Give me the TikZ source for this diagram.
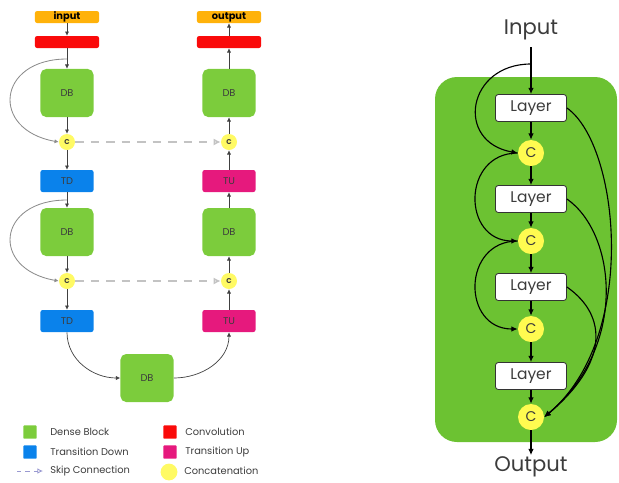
\documentclass[tikz,border=0pt]{standalone}
\usepackage{fontspec}
\setmainfont{Poppins}
\usetikzlibrary{arrows.meta,positioning}
\definecolor{dbgreen}{RGB}{124,204,60}
\definecolor{bggreen}{RGB}{108,194,50}
\definecolor{convred}{RGB}{250,10,10}
\definecolor{inorange}{RGB}{255,178,10}
\definecolor{tdblue}{RGB}{10,130,235}
\definecolor{tumag}{RGB}{230,25,125}
\definecolor{catyellow}{RGB}{255,250,100}
\definecolor{skipgray}{RGB}{195,195,195}
\definecolor{textgray}{RGB}{60,60,60}
\begin{document}
\begin{tikzpicture}[x=0.025cm,y=0.025cm,
  box/.style={rounded corners=1.5pt,inner sep=0pt,font=\fontsize{7}{8}\selectfont,text=textgray},
  inbox/.style={box,fill=inorange,minimum width=1.6cm,minimum height=0.3cm,font=\fontsize{7}{8}\selectfont\bfseries,text=black},
  conv/.style={box,fill=convred,minimum width=1.6cm,minimum height=0.3cm},
  dblock/.style={box,fill=dbgreen,rounded corners=4pt,minimum width=1.325cm,minimum height=1.2cm},
  td/.style={box,fill=tdblue,minimum width=1.325cm,minimum height=0.55cm},
  tu/.style={box,fill=tumag,minimum width=1.325cm,minimum height=0.55cm},
  cat/.style={circle,fill=catyellow,inner sep=0pt,minimum size=0.4cm,font=\fontsize{5}{6}\selectfont\bfseries,text=textgray},
  flow/.style={draw=black!75,line width=0.5pt,-{Latex[length=3pt,width=3pt]}},
  skipcurve/.style={draw=black!45,line width=0.6pt,-{Latex[length=3pt,width=3pt]}},
  skipline/.style={draw=skipgray,line width=1.3pt,dash pattern=on 6pt off 5pt,-{Latex[length=5pt,width=5pt,open]}},
  layer/.style={draw=black!80,fill=white,rounded corners=2pt,line width=0.6pt,minimum width=1.775cm,minimum height=0.675cm,font=\fontsize{11}{12}\selectfont,text=textgray},
  catR/.style={circle,fill=catyellow!80!yellow,inner sep=0pt,minimum size=0.65cm,font=\fontsize{10}{11}\selectfont,text=textgray},
  flowR/.style={draw=black,line width=0.8pt,-{Latex[length=4.5pt,width=4pt]}},
  lsq/.style={rounded corners=0.5pt,minimum size=0.33cm,inner sep=0pt},
  ltext/.style={font=\fontsize{7}{8}\selectfont,text=textgray,inner sep=0pt,anchor=west},
  bigtext/.style={font=\fontsize{15}{16}\selectfont,text=textgray,inner sep=0pt}
]
\useasboundingbox (0,0) rectangle (619,-482);

\node[inbox] (in) at (67,-17) {input};
\node[conv] (convL) at (67,-42) {};
\node[dblock] (dbL1) at (67,-93) {DB};
\node[cat] (cL1) at (67,-142) {C};
\node[td] (tdL1) at (67,-181) {TD};
\node[dblock] (dbL2) at (67,-232) {DB};
\node[cat] (cL2) at (67,-281) {C};
\node[td] (tdL2) at (67,-321) {TD};
\node[dblock] (dbB) at (147,-378) {DB};
\node[tu] (tuR2) at (229,-321) {TU};
\node[cat] (cR2) at (229,-281) {C};
\node[dblock] (dbR2) at (229,-232) {DB};
\node[tu] (tuR1) at (229,-181) {TU};
\node[cat] (cR1) at (229,-142) {C};
\node[dblock] (dbR1) at (229,-93) {DB};
\node[conv] (convR) at (229,-42) {};
\node[inbox] (out) at (229,-17) {output};

\foreach \a/\b in {in/convL,convL/dbL1,dbL1/cL1,cL1/tdL1,tdL1/dbL2,dbL2/cL2,cL2/tdL2,
    tuR2/cR2,cR2/dbR2,dbR2/tuR1,tuR1/cR1,cR1/dbR1,dbR1/convR,convR/out}
  \draw[flow] (\a) -- (\b);
\draw[flow] (tdL2.south) to[out=-90,in=180] (dbB.west);
\draw[flow] (dbB.east) to[out=0,in=-90] (tuR2.south);

\coordinate (sL1) at (67,-59);
\coordinate (sL2) at (67,-200);
\draw[skipcurve] (sL1) to[out=180,in=170,distance=1.75cm] (cL1.west);
\draw[skipcurve] (sL2) to[out=180,in=170,distance=1.75cm] (cL2.west);
\draw[skipline] (cL1) -- (cR1);
\draw[skipline] (cL2) -- (cR2);

% legend
\node[lsq,fill=dbgreen] (lgDB) at (30,-432) {};
\node[lsq,fill=tdblue] (lgTD) at (30,-452) {};
\node[lsq,fill=convred] (lgCV) at (170,-432) {};
\node[lsq,fill=tumag] (lgTU) at (170,-452) {};
\node[circle,fill=catyellow,minimum size=0.42cm,inner sep=0pt] (lgC) at (169,-472) {};
\node[ltext] at (50,-432) {Dense Block};
\node[ltext] at (50,-452) {Transition Down};
\node[ltext] at (50,-471) {Skip Connection};
\node[ltext] at (185,-432) {Convolution};
\node[ltext] at (185,-452) {Transition Up};
\node[ltext] at (184,-471) {Concatenation};
\coordinate (skA) at (17,-471);
\coordinate (skB) at (43,-471);
\draw[draw=black!45!blue!40,line width=0.6pt,dashed,-{Latex[length=4pt,width=4pt,open]}] (skA) -- (skB);

% dense block
\fill[bggreen,rounded corners=0.55cm] (435,-77) rectangle (617,-442);
\node[bigtext] (inp) at (531,-30) {Input};
\node[layer] (l1) at (531,-108) {Layer};
\node[catR] (c1) at (531,-153) {C};
\node[layer] (l2) at (531,-199) {Layer};
\node[catR] (c2) at (531,-241) {C};
\node[layer] (l3) at (531,-287) {Layer};
\node[catR] (c3) at (531,-329) {C};
\node[layer] (l4) at (531,-376) {Layer};
\node[catR] (c4) at (531,-417) {C};
\node[bigtext] (outp) at (531,-467) {Output};

\draw[flowR,shorten <=5pt] (inp) -- (l1);
\foreach \a/\b in {l1/c1,c1/l2,l2/c2,c2/l3,l3/c3,c3/l4,l4/c4}
  \draw[flowR] (\a) -- (\b);
\draw[flowR,shorten >=1pt] (c4) -- (outp);

\coordinate (sp) at (531,-64);
\draw[flowR] (sp) to[out=180,in=170,distance=1.6cm] (c1.west);
\draw[flowR] (c1.west) to[out=180,in=180,distance=1.4cm] (c2.west);
\draw[flowR] (c2.west) to[out=180,in=180,distance=1.4cm] (c3.west);

\draw[flowR] (l1.east) to[out=-35,in=40,out distance=1.6cm,in distance=3.1cm] (c4.east);
\draw[flowR] (l2.east) to[out=-35,in=40,out distance=1.5cm,in distance=2.75cm] (c4.east);
\draw[flowR] (l3.east) to[out=-35,in=40,out distance=1.25cm,in distance=2.1cm] (c4.east);
\end{tikzpicture}
\end{document}
